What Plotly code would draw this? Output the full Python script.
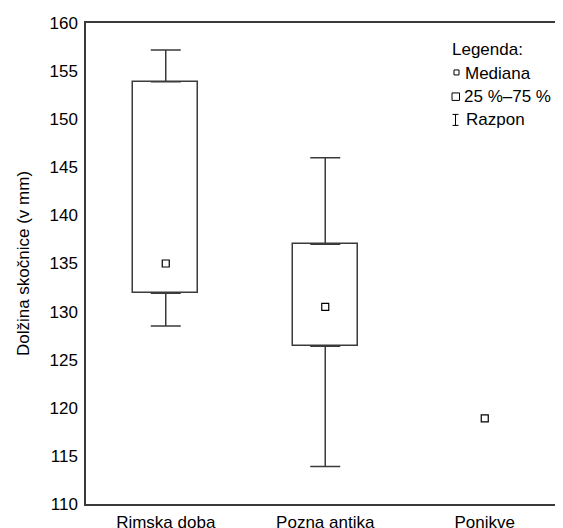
import plotly.graph_objects as go

# ---- data ----
categories = ["Rimska doba", "Pozna antika", "Ponikve"]
range_low = [128.5, 113.9, None]
q25 = [131.9, 126.4, None]
medians = [135.0, 130.5, 118.9]
q75 = [153.9, 137.0, None]
range_high = [157.2, 146.0, None]
y_ticks = [110, 115, 120, 125, 130, 135, 140, 145, 150, 155, 160]
legend_title = "Legenda:"
legend_items = ["Mediana", "25 %–75 %", "Razpon"]
y_title = "Dolžina skočnice (v mm)"

LINE = "#3a3a3a"
FONT = "Arial, Liberation Sans, sans-serif"
OFF = 8  # page body margin
W, H = 555, 520
L, R, T, B = 78, 0, 14.5, 24
PW, PH = W - L - R, H - T - B

def px(x):
    return (x - OFF - L) / PW

def py(y):
    return 1 - (y - OFF - T) / PH

box_h = [None if a is None else b - a for a, b in zip(q25, q75)]
up_err = [None if a is None else b - a for a, b in zip(q75, range_high)]
dn_err = [None if a is None else a - b for a, b in zip(q25, range_low)]
zeros = [0 if a is not None else None for a in q25]

fig = go.Figure()
fig.add_trace(go.Bar(
    x=categories, y=box_h, base=q25, width=0.41,
    marker=dict(color="white", line=dict(color=LINE, width=1.5)),
    showlegend=False, hoverinfo="skip"))
fig.add_trace(go.Scatter(
    x=categories, y=q75, mode="markers",
    marker=dict(color="rgba(0,0,0,0)", size=1),
    error_y=dict(type="data", symmetric=False, array=up_err, arrayminus=zeros,
                 color=LINE, thickness=1.5, width=15),
    showlegend=False, hoverinfo="skip"))
fig.add_trace(go.Scatter(
    x=categories, y=q25, mode="markers",
    marker=dict(color="rgba(0,0,0,0)", size=1),
    error_y=dict(type="data", symmetric=False, array=zeros, arrayminus=dn_err,
                 color=LINE, thickness=1.5, width=15),
    showlegend=False, hoverinfo="skip"))
fig.add_trace(go.Scatter(
    x=categories, y=medians, mode="markers",
    marker=dict(symbol="square-open", size=7, color="black", line=dict(width=1.2)),
    showlegend=False, hoverinfo="skip"))

# legend built from text + small icon shapes
fig.add_annotation(text=legend_title, xref="paper", yref="paper",
                   x=px(450), y=py(49), xanchor="left", yanchor="middle",
                   showarrow=False, font=dict(size=17, color="black", family=FONT))
text_x = [463, 462, 464]
row_y = [73, 96.5, 119.5]
for t, tx, ry in zip(legend_items, text_x, row_y):
    fig.add_annotation(text=t, xref="paper", yref="paper",
                       x=px(tx), y=py(ry), xanchor="left", yanchor="middle",
                       showarrow=False, font=dict(size=17, color="black", family=FONT))

shapes = [
    dict(type="rect", xref="paper", yref="paper",
         x0=px(454), x1=px(459), y0=py(74.5), y1=py(69.5),
         line=dict(color="black", width=1)),
    dict(type="rect", xref="paper", yref="paper",
         x0=px(452), x1=px(459.5), y0=py(100), y1=py(92.5),
         line=dict(color="black", width=1)),
    dict(type="path", xref="paper", yref="paper",
         path=f"M {px(452.5)},{py(114)} L {px(458.5)},{py(114)} "
              f"M {px(455.5)},{py(114)} L {px(455.5)},{py(125)} "
              f"M {px(452.5)},{py(125)} L {px(458.5)},{py(125)}",
         line=dict(color="black", width=1)),
]

fig.update_layout(
    width=W, height=H,
    margin=dict(l=L, r=R, t=T, b=B, pad=0, autoexpand=False),
    plot_bgcolor="white", paper_bgcolor="white",
    font=dict(family=FONT, size=17, color="black"),
    shapes=shapes,
    bargap=0,
    xaxis=dict(range=[-0.5, -0.5 + PW / 159.5], showgrid=False, zeroline=False,
               showline=True, linecolor=LINE, linewidth=1.5, mirror=True,
               ticks="", tickfont=dict(size=17), ticklabelstandoff=2,
               automargin=False),
    yaxis=dict(range=[110, 160], tickvals=y_ticks, showgrid=False, zeroline=False,
               showline=True, linecolor=LINE, linewidth=1.5, mirror=False,
               ticks="", tickfont=dict(size=17), ticklabelstandoff=3,
               automargin=False,
               title=dict(text=y_title, font=dict(size=17), standoff=16)),
)

fig.write_html("out.html")
